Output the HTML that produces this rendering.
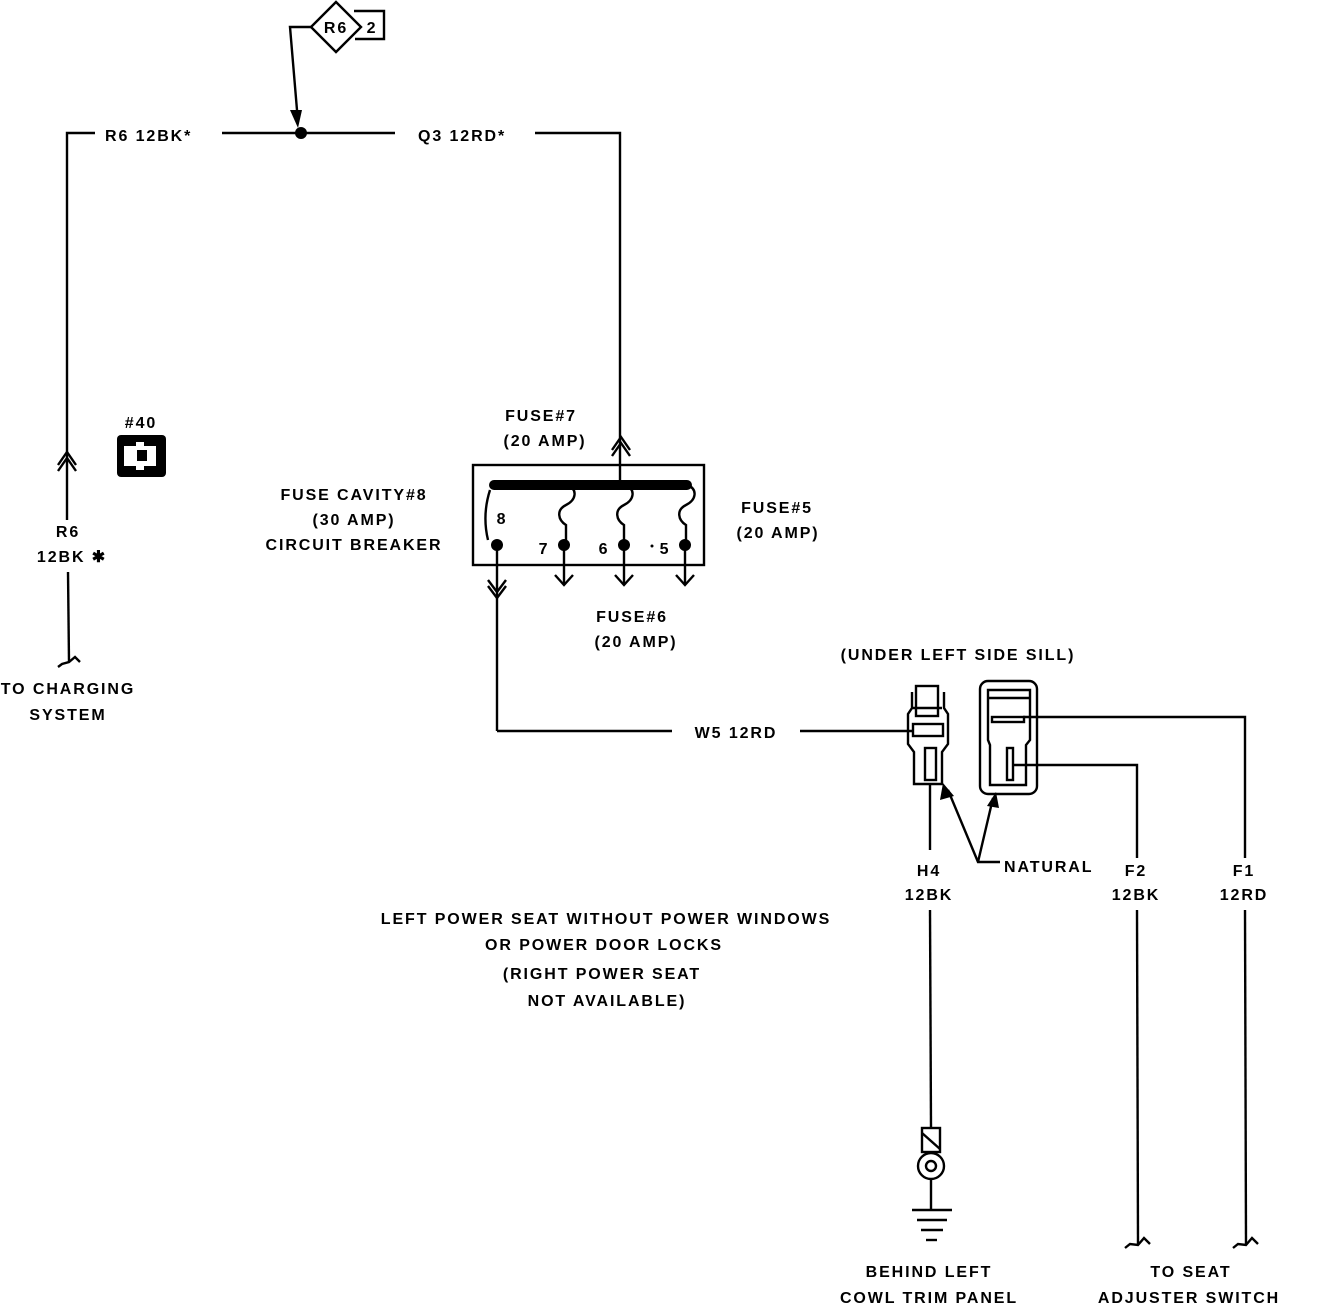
<!DOCTYPE html>
<html><head><meta charset="utf-8"><style>
html,body{margin:0;padding:0;background:#fff;}
svg{display:block}
text{font-family:"Liberation Sans",sans-serif;font-weight:bold;font-size:16px;letter-spacing:1.9px;fill:#000}
</style></head><body>
<svg width="1328" height="1306" viewBox="0 0 1328 1306" xmlns="http://www.w3.org/2000/svg">
<g stroke="#000" stroke-width="2.4" fill="none">
<polyline points="67,520 67,133 95,133"/>
<line x1="222" y1="133" x2="395" y2="133"/>
<polyline points="535,133 620,133 620,485"/>
<polyline points="311,27 290,27 298,122"/>
<line x1="68" y1="572" x2="69" y2="662"/>
<polyline points="58,667 62,664 69,662 75,657 80,662"/>
<polyline points="58,465 67,452 76,465"/>
<polyline points="58,471 67,458 76,471"/>
<polyline points="612,450 621,437 630,450"/>
<polyline points="612,456 621,443 630,456"/>
<rect x="473" y="465" width="231" height="100"/>
<path d="M490,490 Q482,515 488,540"/>
<path d="M568,485 c10,5 8,15 -2,20 c-10,5 -8,15 0,20 v20"/>
<path d="M626,485 c10,5 8,15 -2,20 c-10,5 -8,15 0,20 v20"/>
<path d="M688,485 c10,5 8,15 -2,20 c-10,5 -8,15 0,20 v20"/>
<line x1="497" y1="545" x2="497" y2="731"/>
<polyline points="488,580 497,592 506,580"/>
<polyline points="488,586 497,598 506,586"/>
<line x1="564" y1="545" x2="564" y2="585"/>
<polyline points="555,575 564,585 573,575"/>
<line x1="624" y1="545" x2="624" y2="585"/>
<polyline points="615,575 624,585 633,575"/>
<line x1="685" y1="545" x2="685" y2="585"/>
<polyline points="676,575 685,585 694,575"/>
<line x1="497" y1="731" x2="672" y2="731"/>
<line x1="800" y1="731" x2="912" y2="731"/>
<rect x="916" y="686" width="22" height="30"/>
<path d="M912,692 v16 l-4,6 v30 l6,8 v32 h28 v-32 l6,-8 v-30 l-4,-6 v-16 M912,708 h30"/>
<rect x="913" y="724" width="30" height="12"/>
<rect x="925" y="748" width="11" height="32"/>
<rect x="980" y="681" width="57" height="113" rx="8"/>
<path d="M988,690 h42 v50 l-4,5 v40 h-36 v-40 l-2,-5 z"/>
<line x1="989" y1="698" x2="1029" y2="698"/>
<rect x="992" y="717" width="32" height="5"/>
<rect x="1007" y="748" width="6" height="32"/>
<polyline points="1023,717 1245,717 1245,858"/>
<polyline points="1013,765 1137,765 1137,858"/>
<line x1="1137" y1="910" x2="1138" y2="1245"/>
<line x1="1245" y1="910" x2="1246" y2="1245"/>
<polyline points="1125,1248 1130,1244 1138,1245 1144,1238 1150,1244"/>
<polyline points="1233,1248 1238,1244 1246,1245 1252,1238 1258,1244"/>
<line x1="930" y1="785" x2="930" y2="850"/>
<line x1="930" y1="910" x2="931" y2="1128"/>
<rect x="922" y="1128" width="18" height="24"/>
<line x1="922" y1="1133" x2="940" y2="1149"/>
<circle cx="931" cy="1166" r="13"/>
<circle cx="931" cy="1166" r="5"/>
<line x1="931" y1="1179" x2="931" y2="1210"/>
<line x1="912" y1="1210" x2="952" y2="1210"/>
<line x1="917" y1="1220" x2="947" y2="1220"/>
<line x1="921" y1="1230" x2="943" y2="1230"/>
<line x1="926" y1="1240" x2="937" y2="1240"/>
<polyline points="1000,862 978,862 948,790"/>
<line x1="978" y1="862" x2="993" y2="798"/>
</g>
<polygon points="290,110 302,110 298,128" fill="#000"/>
<polygon points="943,783 940,800 954,796" fill="#000"/>
<polygon points="996,792 987,806 999,808" fill="#000"/>
<circle cx="301" cy="133" r="6" fill="#000"/>
<rect x="489" y="480" width="203" height="10" rx="5" fill="#000"/>
<circle cx="497" cy="545" r="6" fill="#000"/>
<circle cx="564" cy="545" r="6" fill="#000"/>
<circle cx="624" cy="545" r="6" fill="#000"/>
<circle cx="685" cy="545" r="6" fill="#000"/>
<circle cx="652" cy="546" r="1.5" fill="#000"/>
<polygon points="336,2 361,27 336,52 311,27" fill="#fff" stroke="#000" stroke-width="2.4"/>
<polyline points="354,11 384,11 384,39 355,39" fill="none" stroke="#000" stroke-width="2.4"/>
<text x="336" y="33" text-anchor="middle" letter-spacing="1">R6</text>
<text x="372" y="33" text-anchor="middle">2</text>
<rect x="117" y="435" width="49" height="42" rx="4" fill="#000"/>
<path d="M124,446 h12 v-4 h8 v4 h12 v20 h-12 v4 h-8 v-4 h-12 z" fill="#fff"/>
<rect x="137" y="450" width="10" height="11" fill="#000"/>
<text x="141" y="428" text-anchor="middle" font-size="15">#40</text>
<text x="105" y="141">R6 12BK*</text>
<text x="418" y="141">Q3 12RD*</text>
<text x="68" y="537" text-anchor="middle">R6</text>
<text x="72" y="562" text-anchor="middle">12BK ✱</text>
<text x="68" y="694" text-anchor="middle">TO CHARGING</text>
<text x="68" y="720" text-anchor="middle">SYSTEM</text>
<text x="541" y="421" text-anchor="middle">FUSE#7</text>
<text x="545" y="446" text-anchor="middle">(20 AMP)</text>
<text x="354" y="500" text-anchor="middle">FUSE CAVITY#8</text>
<text x="354" y="525" text-anchor="middle">(30 AMP)</text>
<text x="354" y="550" text-anchor="middle">CIRCUIT BREAKER</text>
<text x="777" y="513" text-anchor="middle">FUSE#5</text>
<text x="778" y="538" text-anchor="middle">(20 AMP)</text>
<text x="502" y="524" text-anchor="middle">8</text>
<text x="544" y="554" text-anchor="middle">7</text>
<text x="604" y="554" text-anchor="middle">6</text>
<text x="665" y="554" text-anchor="middle">5</text>
<text x="632" y="622" text-anchor="middle">FUSE#6</text>
<text x="636" y="647" text-anchor="middle">(20 AMP)</text>
<text x="736" y="738" text-anchor="middle">W5 12RD</text>
<text x="958" y="660" text-anchor="middle">(UNDER LEFT SIDE SILL)</text>
<text x="1004" y="872">NATURAL</text>
<text x="929" y="876" text-anchor="middle">H4</text>
<text x="929" y="900" text-anchor="middle">12BK</text>
<text x="1136" y="876" text-anchor="middle">F2</text>
<text x="1136" y="900" text-anchor="middle">12BK</text>
<text x="1244" y="876" text-anchor="middle">F1</text>
<text x="1244" y="900" text-anchor="middle">12RD</text>
<text x="606" y="924" text-anchor="middle">LEFT POWER SEAT WITHOUT POWER WINDOWS</text>
<text x="604" y="950" text-anchor="middle">OR POWER DOOR LOCKS</text>
<text x="602" y="979" text-anchor="middle">(RIGHT POWER SEAT</text>
<text x="607" y="1006" text-anchor="middle">NOT AVAILABLE)</text>
<text x="929" y="1277" text-anchor="middle">BEHIND LEFT</text>
<text x="929" y="1303" text-anchor="middle">COWL TRIM PANEL</text>
<text x="1191" y="1277" text-anchor="middle">TO SEAT</text>
<text x="1189" y="1303" text-anchor="middle">ADJUSTER SWITCH</text>
</svg>
</body></html>
